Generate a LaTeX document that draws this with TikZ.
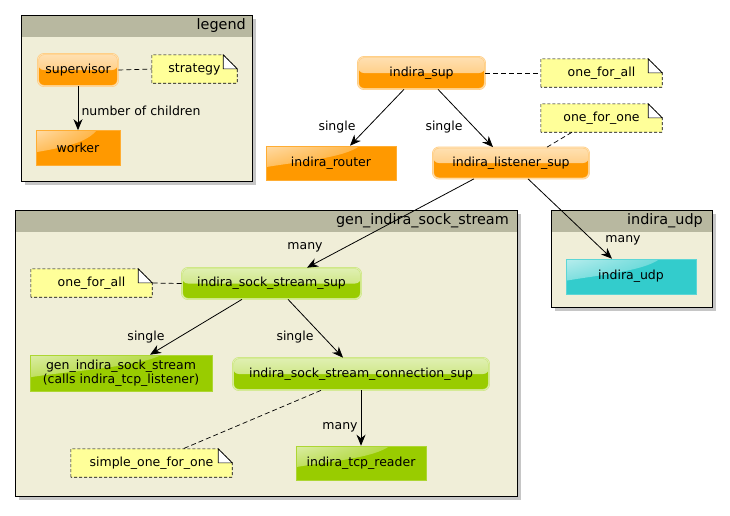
\documentclass[tikz,border=0pt]{standalone}
\usepackage{fontspec}
\setmainfont{DejaVu Sans}
\usetikzlibrary{arrows.meta,backgrounds,calc,shadings}

\definecolor{orng}{HTML}{FF9900}
\definecolor{grn}{HTML}{99CC00}
\definecolor{cyn}{HTML}{33CCCC}
\definecolor{notey}{HTML}{FFFF99}
\definecolor{clbody}{HTML}{F0EED8}
\definecolor{clhead}{HTML}{B8B8A0}
\definecolor{clshadow}{HTML}{C6C6C6}

\tikzset{
  base/.style={font=\fontsize{12.5}{14.5}\selectfont, text=black, inner sep=0pt, align=center},
  titletext/.style={font=\fontsize{14.4}{16}\selectfont, text=black, inner sep=0pt},
  supbox/.style={base, rounded corners=6pt, fill=#1, draw=#1!50!white,
    double=#1!25!white, double distance=0.5pt, line width=0.7pt,
    path picture={\shade[top color=#1!30!white, bottom color=#1!62!white]
      (path picture bounding box.north west) rectangle (path picture bounding box.east);}},
  wrkbox/.style={base, fill=#1, draw=#1!80!white, line width=0.6pt,
    path picture={\shade[upper left=#1!35!white, upper right=#1!85!white,
        lower left=#1!80!white, lower right=#1]
      (path picture bounding box.north west)
      -- ($(path picture bounding box.north west)!0.72!(path picture bounding box.north east)$)
      .. controls ($(path picture bounding box.north west)!0.6!(path picture bounding box.north east)+(0,-12pt)$)
      and ($(path picture bounding box.west)+(30pt,1pt)$)
      .. ($(path picture bounding box.north west)!0.62!(path picture bounding box.south west)$) -- cycle;}},
  notebox/.style={base},
  lbl/.style={base},
  edgeline/.style={line width=0.8pt, draw=black, -{Stealth[length=11pt,width=9pt,inset=3.5pt]}},
  noteline/.style={line width=0.7pt, draw=black, dash pattern=on 5pt off 3pt},
}

% cluster frame: name, x1, y1, x2, y2, title, right edge of title
\newcommand\clusterbox[7]{%
  \fill[clshadow] (#2+4,#3+4) rectangle (#4+4,#5+4);
  \fill[clbody] (#2,#3) rectangle (#4,#5);
  \fill[clhead] (#2,#3) rectangle (#4,#3+22);
  \draw[line width=1pt] (#2,#3) rectangle (#4,#5);
  \node[titletext, anchor=east] (#1) at (#7,#3+11) {#6};}

% sticky note outline with a folded top right corner
\newcommand\notefold[1]{%
  \filldraw[fill=notey, draw=black, line width=0.6pt, dash pattern=on 3pt off 2pt]
    (#1.south west) -- (#1.north west) -- ([xshift=-14pt]#1.north east)
    -- ([yshift=-14pt]#1.north east) -- (#1.south east) -- cycle;
  \filldraw[fill=white, draw=black, line width=0.6pt]
    ([xshift=-14pt]#1.north east) -- ([xshift=-14pt,yshift=-14pt]#1.north east)
    -- ([yshift=-14pt]#1.north east) -- cycle;}

\begin{document}
\begin{tikzpicture}[x=1pt,y=-1pt]
\useasboundingbox (0,0) rectangle (730,515);

% legend
\node[supbox=orng, minimum width=80pt, minimum height=32pt] (lsup) at (78,70) {supervisor};
\node[notebox, minimum width=85pt, minimum height=28pt] (lstrat) at (194.5,69) {strategy};
\node[wrkbox=orng, minimum width=84pt, minimum height=35pt] (lwork) at (78,148) {worker};
\node[lbl] (lnum) at (141,111) {number of children};

% top level
\node[supbox=orng, minimum width=127pt, minimum height=32pt] (isup) at (421.5,73) {indira\_sup};
\node[notebox, minimum width=121pt, minimum height=28pt] (nofa) at (601.5,73) {one\_for\_all};
\node[notebox, minimum width=121pt, minimum height=28pt] (nofo) at (601.5,118) {one\_for\_one};
\node[wrkbox=orng, minimum width=130pt, minimum height=34pt] (router) at (331,163) {indira\_router};
\node[supbox=orng, minimum width=156pt, minimum height=31pt] (listen) at (511,163) {indira\_listener\_sup};

% gen_indira_sock_stream
\node[notebox, minimum width=121pt, minimum height=28pt] (gofa) at (91.5,283) {one\_for\_all};
\node[supbox=grn, minimum width=179pt, minimum height=31pt] (sss) at (271.5,283.5) {indira\_sock\_stream\_sup};
\node[wrkbox=grn, minimum width=182pt, minimum height=36pt] (gen) at (121,373) {gen\_indira\_sock\_stream\\(calls indira\_tcp\_listener)};
\node[supbox=grn, minimum width=256pt, minimum height=32pt] (conn) at (361,374) {indira\_sock\_stream\_connection\_sup};
\node[notebox, minimum width=161pt, minimum height=28pt] (simple) at (151.5,463) {simple\_one\_for\_one};
\node[wrkbox=grn, minimum width=130pt, minimum height=34pt] (tcp) at (361,463) {indira\_tcp\_reader};

% indira_udp
\node[wrkbox=cyn, minimum width=130pt, minimum height=35pt] (udp) at (631,276.5) {indira\_udp};

% edge labels
\node[lbl] (l1) at (337,127) {single};
\node[lbl] (l2) at (444,127) {single};
\node[lbl] (l3) at (305,247) {many};
\node[lbl] (l4) at (623,240) {many};
\node[lbl] (l5) at (146,337) {single};
\node[lbl] (l6) at (295,337) {single};
\node[lbl] (l7) at (340,427) {many};

\begin{pgfonlayer}{background}
  \fill[white] (0,0) rectangle (730,515);
  \clusterbox{tlegend}{21}{15}{252}{181}{legend}{246}
  \clusterbox{tgen}{15}{210}{517}{496}{gen\_indira\_sock\_stream}{509}
  \clusterbox{tudp}{551}{210}{712}{307}{indira\_udp}{703}
  \notefold{lstrat}
  \notefold{nofa}
  \notefold{nofo}
  \notefold{gofa}
  \notefold{simple}
\end{pgfonlayer}

% connectors
\draw[edgeline] (lsup.south) -- (lwork.north);
\draw[noteline] (lsup.east) -- (lstrat.west);

\draw[edgeline] ([xshift=-17.5pt]isup.south) -- ([xshift=19pt]router.north);
\draw[edgeline] ([xshift=16.5pt]isup.south) -- ([xshift=-18pt]listen.north);
\draw[noteline] (isup.east) -- (nofa.west);
\draw[noteline] ([xshift=36pt]listen.north) -- ([xshift=-29.5pt]nofo.south);

\draw[edgeline] ([xshift=-37pt]listen.south) -- ([xshift=35.5pt]sss.north);
\draw[edgeline] ([xshift=17pt]listen.south) -- ([xshift=-19pt]udp.north);

\draw[noteline] (sss.west) -- (gofa.east);
\draw[edgeline] ([xshift=-29.5pt]sss.south) -- ([xshift=29pt]gen.north);
\draw[edgeline] ([xshift=16.5pt]sss.south) -- ([xshift=-18pt]conn.north);
\draw[noteline] ([xshift=-40pt]conn.south) -- ([xshift=31.5pt]simple.north);
\draw[edgeline] (conn.south) -- (tcp.north);
\end{tikzpicture}
\end{document}
